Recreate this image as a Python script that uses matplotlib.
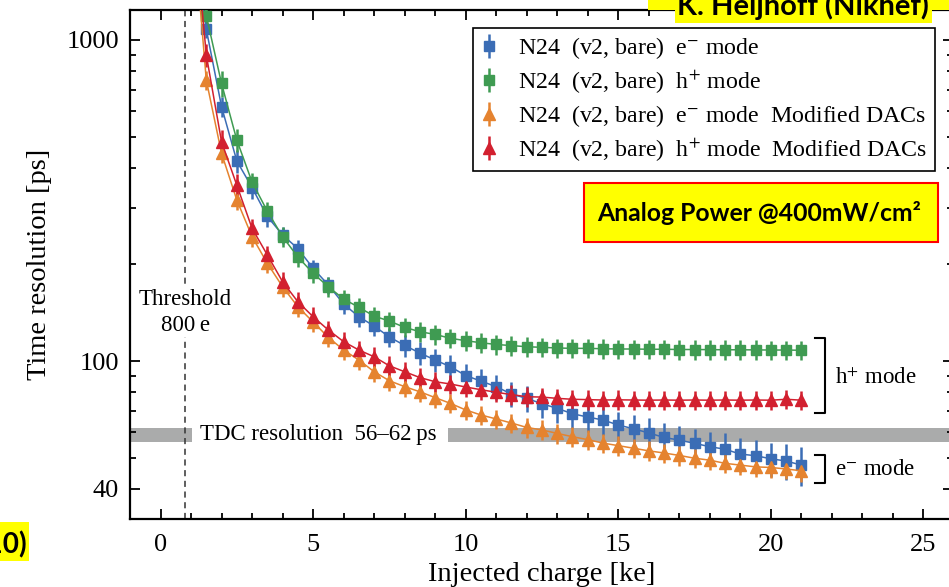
import matplotlib
matplotlib.use("Agg")
import numpy as np
import matplotlib.pyplot as plt
from matplotlib.patches import Rectangle
from matplotlib.ticker import MultipleLocator, FixedLocator, LogLocator, NullFormatter

plt.rcParams['font.family'] = ['Liberation Serif', 'DejaVu Serif']
plt.rcParams['mathtext.fontset'] = 'stix'

# injected charge [ke]
charge = [1.0, 1.5, 2.0, 2.5, 3.0, 3.5, 4.0, 4.5, 5.0, 5.5, 6.0, 6.5, 7.0, 7.5,
          8.0, 8.5, 9.0, 9.5, 10.0, 10.5, 11.0, 11.5, 12.0, 12.5, 13.0, 13.5,
          14.0, 14.5, 15.0, 15.5, 16.0, 16.5, 17.0, 17.5, 18.0, 18.5, 19.0,
          19.5, 20.0, 20.5, 21.0]

# time resolution [ps] (first point lies above the plot)
e_mode = [2500, 1080, 620, 420, 347, 282, 247, 224, 194.5, 172.5, 150.5, 137.4,
          128.5, 118.8, 111.8, 105.9, 100.7, 96.0, 90.1, 86.6, 83.2, 78.9, 76.5,
          73.6, 71.2, 68.5, 66.9, 65.5, 63.2, 61.5, 59.7, 57.8, 56.7, 55.4, 54.1,
          53.1, 51.3, 50.7, 49.6, 48.8, 47.4]
h_mode = [2300, 1192, 732, 488, 361, 293, 244, 211, 187.6, 170.4, 156, 147, 138,
          133.2, 127.3, 123.4, 121, 117.7, 115.7, 114, 112.6, 111.7, 110.8, 110.3,
          109.8, 109.5, 109.5, 109.2, 109.0, 109.0, 108.8, 108.8, 108.6, 108.6,
          108.5, 108.4, 108.4, 108.3, 108.2, 108.2, 108.0]
e_mode_dac = [2800, 750, 443.6, 317.4, 244, 201.5, 170.4, 147.6, 132.3, 118.5,
              108.2, 100.7, 92.6, 86.8, 83.2, 80.2, 76.9, 73.8, 70.4, 67.9, 66.0,
              64.1, 62.1, 61.0, 59.5, 58.1, 56.9, 55.5, 54.5, 53.5, 52.5, 51.7,
              50.8, 49.8, 49.1, 48.0, 47.4, 46.8, 46.6, 46.1, 45.5]
h_mode_dac = [3000, 898, 482, 353, 259, 214, 176.6, 153, 137.4, 124.9, 114.9,
              108.2, 103.1, 96.6, 92.6, 88.8, 86.2, 84.8, 83.0, 81.4, 79.9, 78.6,
              77.4, 77.2, 76.5, 76.0, 75.8, 75.6, 75.7, 75.6, 75.5, 75.6, 75.5,
              75.6, 75.5, 75.6, 75.5, 75.6, 75.5, 76.0, 75.5]

# relative errors
e_err = [0.06, 0.06, 0.07, 0.08, 0.08, 0.07, 0.06, 0.06, 0.06, 0.06,
         0.07, 0.07, 0.07, 0.07, 0.08, 0.08, 0.08, 0.09, 0.09, 0.09,
         0.09, 0.09, 0.09, 0.10, 0.10, 0.10, 0.10, 0.10, 0.10, 0.10,
         0.11, 0.11, 0.11, 0.11, 0.11, 0.12, 0.12, 0.12, 0.12, 0.13, 0.14]
h_err = [0.08, 0.08, 0.09, 0.08, 0.07, 0.07, 0.07, 0.07, 0.07, 0.07,
         0.07, 0.07, 0.07, 0.07, 0.07, 0.07, 0.07, 0.07, 0.07, 0.07,
         0.07, 0.07, 0.07, 0.07, 0.07, 0.07, 0.07, 0.07, 0.07, 0.07,
         0.07, 0.07, 0.07, 0.07, 0.07, 0.07, 0.07, 0.07, 0.07, 0.07, 0.07]
dac_err = [0.07, 0.07, 0.07, 0.07, 0.07, 0.07, 0.07, 0.07, 0.07, 0.07,
           0.07, 0.07, 0.07, 0.07, 0.07, 0.07, 0.07, 0.07, 0.07, 0.07,
           0.07, 0.07, 0.07, 0.07, 0.07, 0.07, 0.07, 0.07, 0.07, 0.07,
           0.07, 0.07, 0.07, 0.07, 0.07, 0.07, 0.07, 0.07, 0.07, 0.07, 0.08]

labels = [r"N24  (v2, bare)  e$^{-}$ mode",
          r"N24  (v2, bare)  h$^{+}$ mode",
          r"N24  (v2, bare)  e$^{-}$ mode  Modified DACs",
          r"N24  (v2, bare)  h$^{+}$ mode  Modified DACs"]
colors = ["#3b6db5", "#3f9b52", "#e5832f", "#d2202f"]
markers = ["s", "s", "^", "^"]

threshold = 0.8      # ke
tdc_band = (56, 62)  # ps

W, H = 949, 587
fig = plt.figure(figsize=(W / 100, H / 100), dpi=100)
ax = fig.add_axes([130 / W, 1 - 519 / H, 823 / W, 509 / H])


def fx(px):
    return px / W


def fy(py):
    return 1 - py / H


series = [e_mode, h_mode, e_mode_dac, h_mode_dac]
errs = [e_err, h_err, dac_err, h_err]
for vals, err, col, mk in zip(series, errs, colors, markers):
    vals = np.array(vals)
    yerr = vals * np.array(err)
    ax.errorbar(charge, vals, yerr=yerr, fmt=mk + '-', color=col, ms=7 if mk == 's' else 8,
                lw=1.1, elinewidth=1.8, capsize=0, zorder=3)

# legend proxies (marker + vertical bar only)
handles = []
for col, mk in zip(colors, markers):
    h = ax.errorbar([np.nan], [np.nan], yerr=[np.nan], fmt=mk, color=col,
                    ms=7 if mk == 's' else 8, elinewidth=1.8, capsize=0)
    handles.append(h)
leg = ax.legend(handles, labels, loc='upper left', bbox_to_anchor=(fx(473), fy(28)),
                bbox_transform=fig.transFigure, borderaxespad=0, fontsize=17.2,
                handlelength=0.7, handletextpad=0.9, labelspacing=0.31,
                borderpad=0.3, fancybox=False, framealpha=1)
leg.get_frame().set_edgecolor('black')
leg.get_frame().set_linewidth(1.2)

# TDC band, interrupted by its label
ax.add_patch(Rectangle((-1.0, tdc_band[0]), 2.02, tdc_band[1] - tdc_band[0],
                       color='#aaabab', lw=0, zorder=1))
ax.add_patch(Rectangle((9.42, tdc_band[0]), 17, tdc_band[1] - tdc_band[0],
                       color='#aaabab', lw=0, zorder=1))
ax.text(1.28, np.sqrt(tdc_band[0] * tdc_band[1]), u"TDC resolution  56\u201362\u2009ps",
        fontsize=16.5, ha='left', va='center')

# threshold line
ax.axvline(threshold, color='#333333', ls=(0, (4, 3)), lw=1.1, zorder=2)
ax.text(threshold + 0.02, 142, "Threshold\n800\u2009e", fontsize=16.5, ha='center',
        va='center', linespacing=1.3,
        bbox=dict(facecolor='white', edgecolor='none', pad=1), zorder=2.5)

# brackets
for top, bot in [(117.9, 68.8), (50.9, 41.7)]:
    ax.plot([21.44, 21.77, 21.77, 21.44], [top, top, bot, bot], color='black',
            lw=1.5, clip_on=False, zorder=4)
ax.text(22.1, 88.5, r"h$^{+}$ mode", fontsize=16.5, ha='left', va='center')
ax.text(22.1, 46.0, r"e$^{-}$ mode", fontsize=16.5, ha='left', va='center')

ax.set_yscale('log')
ax.set_xlim(-1.0, 25.97)
ax.set_ylim(32.2, 1240)
ax.yaxis.set_major_locator(FixedLocator([40, 100, 1000]))
ax.yaxis.set_major_formatter(plt.FuncFormatter(lambda v, _: f"{v:.0f}"))
ax.yaxis.set_minor_locator(LogLocator(base=10, subs=np.arange(2, 10)))
ax.yaxis.set_minor_formatter(NullFormatter())
ax.xaxis.set_major_locator(MultipleLocator(5))
ax.xaxis.set_minor_locator(MultipleLocator(1))
ax.tick_params(which='both', direction='in', top=True, right=True, width=1.3)
ax.tick_params(which='major', length=7.5, labelsize=19)
ax.tick_params(axis='x', which='major', pad=11)
ax.tick_params(axis='y', which='major', pad=8)
ax.tick_params(which='minor', length=4)
for sp in ax.spines.values():
    sp.set_linewidth(1.6)

ax.set_xlabel("Injected charge [ke]", fontsize=20.5, labelpad=4)
ax.set_ylabel("Time resolution [ps]", fontsize=20.5, labelpad=10)

# overlaid slide boxes
sans = ['Lato', 'DejaVu Sans']
fig.patches.append(Rectangle((fx(648), fy(10)), fx(301), fy(0) - fy(10),
                             transform=fig.transFigure, facecolor='#ffff00', edgecolor='none'))
fig.patches.append(Rectangle((fx(675), fy(23)), fx(257), fy(0) - fy(23),
                             transform=fig.transFigure, facecolor='#ffff00', edgecolor='none'))
fig.text(fx(803), fy(15), "K. Heijhoff (Nikhef)", family=sans, fontweight='bold',
         fontsize=21, ha='center', va='baseline')

fig.patches.append(Rectangle((fx(584), fy(242)), fx(354), fy(183) - fy(242),
                             transform=fig.transFigure, facecolor='#ffff00',
                             edgecolor='#ff0000', lw=1.5))
fig.text(fx(759), fy(213), u"Analog Power @400mW/cm\u00b2", family=sans,
         fontweight='bold', fontsize=17.8, ha='center', va='center')

fig.patches.append(Rectangle((0, fy(561)), fx(29), fy(522) - fy(561),
                             transform=fig.transFigure, facecolor='#ffff00', edgecolor='none'))
fig.text(fx(27), fy(553), "(10)", family=sans, fontweight='bold', fontsize=20,
         ha='right', va='baseline')

fig.savefig("out.png", dpi=100)
